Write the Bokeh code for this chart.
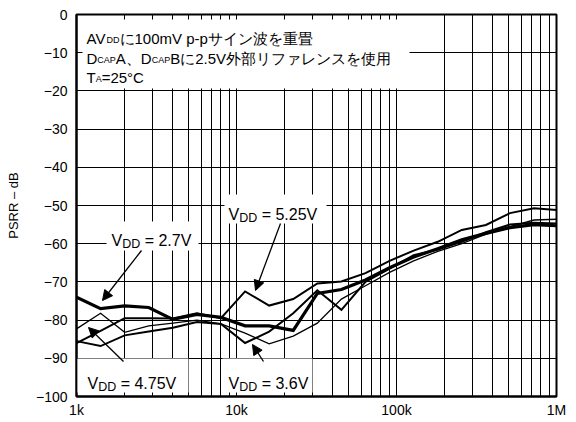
from bokeh.plotting import figure
from bokeh.models import (FixedTicker, Label, BoxAnnotation, Arrow, NormalHead,
                          Range1d, LinearAxis, LogAxis)
from bokeh.embed import file_html
from bokeh.resources import INLINE

# ---------------- data ----------------
freq_hz = [1000, 1414, 2000, 2828, 4000, 5657, 8000, 11314, 16000, 22627, 32000,
           45255, 64000, 90510, 128000, 181019, 256000, 362039, 512000, 724077, 1000000]
psrr_2v7 = [-74.0, -77.0, -76.3, -76.7, -79.8, -78.5, -79.3, -81.5, -81.5, -82.7, -73.0,
            -72.0, -69.5, -66.3, -63.5, -61.3, -59.0, -57.3, -55.8, -55.0, -55.3]
psrr_5v25 = [-86.0, -82.8, -79.5, -79.5, -79.6, -78.2, -79.5, -72.5, -76.2, -74.5, -70.4,
             -69.9, -67.7, -64.5, -61.8, -59.5, -56.4, -55.1, -52.0, -50.7, -51.2]
psrr_4v75 = [-82.3, -78.2, -83.2, -81.5, -80.8, -80.0, -81.0, -83.4, -86.2, -84.2, -80.8,
             -74.5, -71.0, -67.5, -64.5, -62.0, -60.0, -57.5, -55.5, -53.8, -53.6]
psrr_3v6 = [-85.5, -86.8, -84.0, -83.0, -82.0, -80.5, -81.0, -86.0, -83.0, -78.2, -72.2,
            -77.3, -70.0, -66.5, -63.0, -61.5, -59.5, -57.0, -55.0, -54.5, -54.7]

x_major = [1000, 10000, 100000, 1000000]
x_major_labels = ["1k", "10k", "100k", "1M"]
x_minor = [2000, 3000, 4000, 5000, 6000, 7000, 8000, 9000,
           20000, 30000, 40000, 50000, 60000, 70000, 80000, 90000,
           200000, 300000, 400000, 500000, 600000, 700000, 800000, 900000]
y_ticks = [-100, -90, -80, -70, -60, -50, -40, -30, -20, -10, 0]
y_tick_labels = ["\u2212100", "\u221290", "\u221280", "\u221270", "\u221260", "\u221250",
                 "\u221240", "\u221230", "\u221220", "\u221210", "0"]

FONT = "Liberation Sans"

p = figure(width=576, height=420, x_axis_type="log",
           x_range=Range1d(1000, 1000000), y_range=Range1d(-100, 0),
           output_backend="svg", toolbar_location=None,
           min_border_left=76, min_border_right=20, min_border_top=14, min_border_bottom=23)
p.background_fill_color = "white"
p.border_fill_color = "white"
p.outline_line_color = "black"
p.outline_line_width = 2

xt = FixedTicker(ticks=x_major, minor_ticks=x_minor)
yt = FixedTicker(ticks=y_ticks, minor_ticks=[])

p.xaxis.ticker = xt
p.xaxis.major_label_overrides = dict(zip(x_major, x_major_labels))
p.yaxis.ticker = yt
p.yaxis.major_label_overrides = dict(zip(y_ticks, y_tick_labels))
for ax in (p.xaxis, p.yaxis):
    ax.axis_line_color = "black"
    ax.axis_line_width = 2
    ax.major_tick_in = 6
    ax.major_tick_out = 0
    ax.minor_tick_in = 4
    ax.minor_tick_out = 0
    ax.major_tick_line_color = "black"
    ax.minor_tick_line_color = "black"
    ax.major_label_text_font = FONT
    ax.major_label_text_font_size = "14px"
    ax.major_label_text_color = "black"
p.xaxis.major_label_standoff = 5
p.yaxis.major_label_standoff = 9
p.yaxis.axis_label = "PSRR \u2013 dB"
p.yaxis.axis_label_text_font = FONT
p.yaxis.axis_label_text_font_size = "13px"
p.yaxis.axis_label_text_font_style = "normal"
p.yaxis.axis_label_text_color = "black"
p.yaxis.axis_label_standoff = 12

top_ax = LogAxis(ticker=xt, major_label_text_font_size="0px", major_label_standoff=0,
                 axis_line_color="black", major_tick_in=6, major_tick_out=0,
                 minor_tick_in=4, minor_tick_out=0)
top_ax.major_label_overrides = {v: "" for v in x_major}
p.add_layout(top_ax, "above")
right_ax = LinearAxis(ticker=yt, major_label_text_font_size="0px", major_label_standoff=0,
                      axis_line_color="black", major_tick_in=6, major_tick_out=0,
                      minor_tick_out=0)
right_ax.major_label_overrides = {v: "" for v in y_ticks}
p.add_layout(right_ax, "right")

p.xgrid.ticker = xt
p.xgrid.grid_line_color = "black"
p.xgrid.grid_line_width = 1
p.xgrid.minor_grid_line_color = "black"
p.xgrid.minor_grid_line_width = 1
p.ygrid.ticker = yt
p.ygrid.grid_line_color = "black"
p.ygrid.grid_line_width = 1

# ---------------- curves ----------------
p.line(freq_hz, psrr_4v75, line_width=1.3, line_color="black", line_join="miter")
p.line(freq_hz, psrr_3v6, line_width=2.0, line_color="black", line_join="miter")
p.line(freq_hz, psrr_5v25, line_width=2.0, line_color="black", line_join="miter")
p.line(freq_hz, psrr_2v7, line_width=3.2, line_color="black", line_join="miter")

# ---------------- annotations (page pixel layout) ----------------
FL, FB = 76, 397   # frame left / bottom in page pixels

W = {' ': 0.278, '\u00a0': 0.278, '=': 0.584, '.': 0.278, 'A': 0.667, 'B': 0.667,
     'C': 0.722, 'D': 0.722, 'P': 0.667, 'T': 0.611, 'V': 0.667, 'm': 0.833, 'p': 0.556,
     '-': 0.333, '\u00b0': 0.4}


def tw(s, size):
    return sum(W.get(c, 0.556 if c.isdigit() else 1.0) for c in s) * size


def box(x0, y0, x1, y1):
    p.add_layout(BoxAnnotation(left=x0 - FL, right=x1 - FL, top=FB - y0, bottom=FB - y1,
                               left_units="screen", right_units="screen",
                               top_units="screen", bottom_units="screen",
                               fill_color="white", fill_alpha=1.0, line_color=None))


def run(x0, base, pieces):
    x = x0
    for txt, sz, dy in pieces:
        p.add_layout(Label(x=x - FL, y=FB - (base + dy), x_units="screen", y_units="screen",
                           text=txt, text_font=FONT, text_font_size=f"{sz}px",
                           text_color="black", text_baseline="alphabetic", text_align="left"))
        x += tw(txt, sz)


def arrow(x1, y1, x2, y2):
    p.add_layout(Arrow(x_start=x1 - FL, y_start=FB - y1, x_end=x2 - FL, y_end=FB - y2,
                       start_units="screen", end_units="screen",
                       line_color="black", line_width=1.3,
                       end=NormalHead(size=10, fill_color="black", line_color="black", line_width=1)))


MS, SS = 15, 9
box(82, 20, 409, 89)
run(86, 39, [("AV", MS, 0), ("DD", SS, 1.5), ("に100mV p-pサイン波を重畳", MS, 0)])
run(86, 58.5, [("D", MS, 0), ("CAP", SS, 1.5), ("A、D", MS, 0), ("CAP", SS, 1.5),
               ("Bに2.5V外部リファレンスを使用", MS, 0)])
run(86, 77.5, [("T", MS, 0), ("A", SS, 1.5), ("=25°C", MS, 0)])

VS, VSS = 16, 12.5
NB = "\u00a0"
box(106, 222, 198, 251)
run(111, 241, [("V", VS, 0), ("DD", VSS, 3), (NB + "= 2.7V", VS, 0)])
arrow(141, 251, 102, 301)

box(224, 195, 326, 224)
run(228, 215, [("V", VS, 0), ("DD", VSS, 3), (NB + "= 5.25V", VS, 0)])
arrow(280, 224, 255, 291)

box(77, 359, 188, 393)
run(87, 384, [("V", VS, 0), ("DD", VSS, 3), (NB + "= 4.75V", VS, 0)])
arrow(123, 362, 88, 328)

box(222, 359, 312, 393)
run(228, 384, [("V", VS, 0), ("DD", VSS, 3), (NB + "= 3.6V", VS, 0)])
arrow(263, 362, 252, 345)

open("out.html", "w").write(file_html(p, INLINE))
